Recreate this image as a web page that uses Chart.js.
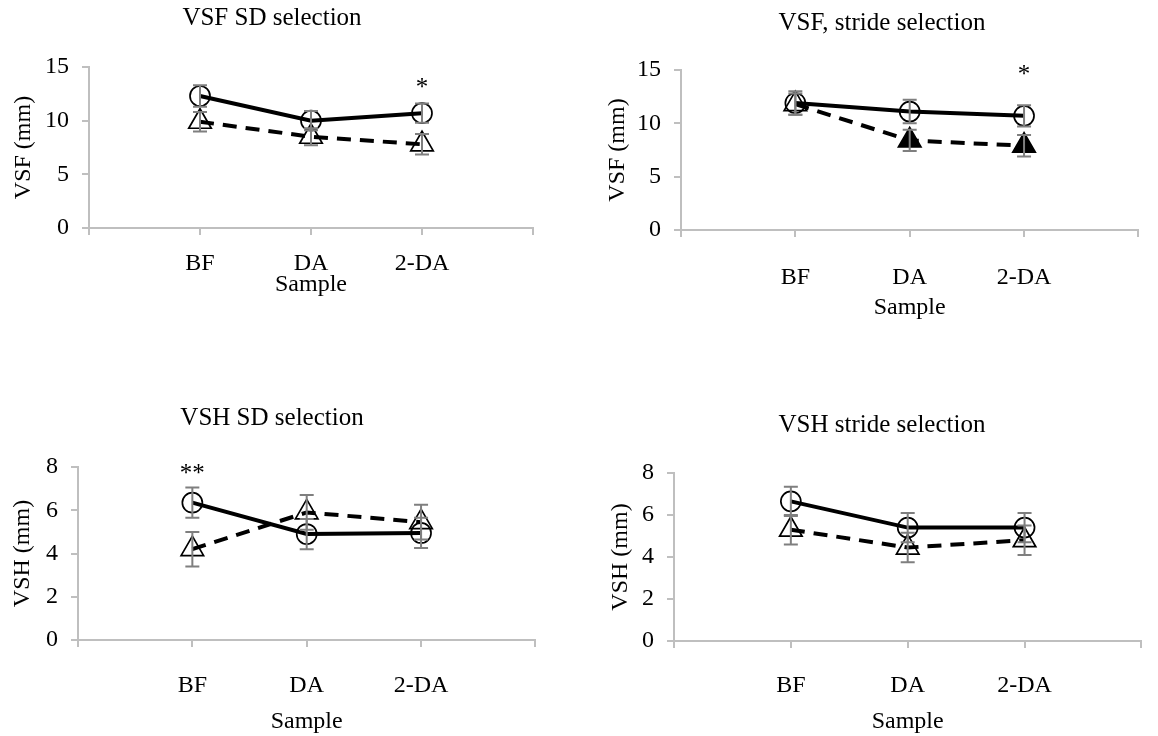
<!DOCTYPE html>
<html>
<head>
<meta charset="utf-8">
<script src="https://cdn.jsdelivr.net/npm/chart.js"></script>
<style>
html,body{margin:0;padding:0;background:#fff;overflow:hidden;width:1158px;height:736px;position:relative}
canvas{position:absolute}
</style>
</head>
<body>
<canvas id="vsfSd" width="560" height="330" style="left:0;top:0"></canvas>
<canvas id="vsfStride" width="575" height="330" style="left:590px;top:0"></canvas>
<canvas id="vshSd" width="560" height="346" style="left:0;top:390px"></canvas>
<canvas id="vshStride" width="575" height="346" style="left:590px;top:390px"></canvas>
<script>
// categories and tick values
const categories = ['BF', 'DA', '2-DA']
const vsfTicks = [0, 5, 10, 15]
const vshTicks = [0, 2, 4, 6, 8]

// VSF, SD selection
const vsfSdCircle = [12.3, 10.0, 10.7]
const vsfSdCircleErr = [1.0, 0.9, 0.9]
const vsfSdTriangle = [9.9, 8.5, 7.8]
const vsfSdTriangleErr = [0.9, 0.8, 0.95]
const vsfSdStars = ['', '', '*']

// VSF, stride selection
const vsfStrideCircle = [11.9, 11.1, 10.7]
const vsfStrideCircleErr = [1.1, 1.1, 1.0]
const vsfStrideTriangle = [11.8, 8.4, 7.9]
const vsfStrideTriangleErr = [1.0, 1.0, 1.0]
const vsfStrideStars = ['', '', '*']

// VSH, SD selection
const vshSdCircle = [6.35, 4.9, 4.95]
const vshSdCircleErr = [0.7, 0.7, 0.7]
const vshSdTriangle = [4.2, 5.9, 5.45]
const vshSdTriangleErr = [0.8, 0.8, 0.8]
const vshSdStars = ['**', '', '']

// VSH, stride selection
const vshStrideCircle = [6.65, 5.4, 5.4]
const vshStrideCircleErr = [0.7, 0.7, 0.7]
const vshStrideTriangle = [5.3, 4.45, 4.8]
const vshStrideTriangleErr = [0.7, 0.7, 0.7]
const vshStrideStars = ['', '', '']

const font = 'Liberation Serif'
const axisGray = '#bfbfbf'

// gray error bars with caps
const errorBars = {
  id: 'errorBars',
  afterDatasetsDraw(chart) {
    const ctx = chart.ctx
    const xs = chart.scales.x, ys = chart.scales.y
    ctx.save()
    ctx.strokeStyle = '#7f7f7f'
    ctx.lineWidth = 2
    chart.data.datasets.forEach(ds => {
      ds.data.forEach((p, i) => {
        const x = xs.getPixelForValue(p.x)
        const top = ys.getPixelForValue(p.y + ds.errors[i])
        const bot = ys.getPixelForValue(p.y - ds.errors[i])
        ctx.beginPath()
        ctx.moveTo(x, top); ctx.lineTo(x, bot)
        ctx.moveTo(x - 7, top); ctx.lineTo(x + 7, top)
        ctx.moveTo(x - 7, bot); ctx.lineTo(x + 7, bot)
        ctx.stroke()
      })
    })
    ctx.restore()
  }
}

// significance asterisks
const stars = {
  id: 'stars',
  afterDraw(chart, args, opts) {
    const ctx = chart.ctx
    ctx.save()
    ctx.font = '25px "' + font + '"'
    ctx.fillStyle = '#000'
    ctx.textAlign = 'center'
    ctx.textBaseline = 'alphabetic'
    opts.text.forEach((t, i) => {
      if (!t) return
      const m = ctx.measureText(t)
      const x = chart.scales.x.getPixelForValue(i + 1)
      const y = chart.scales.y.getPixelForValue(opts.level)
      ctx.fillText(t, x, y + (m.actualBoundingBoxAscent - m.actualBoundingBoxDescent) / 2)
    })
    ctx.restore()
  }
}

function toPoints(vals) {
  return vals.map((v, i) => ({ x: i + 1, y: v }))
}

function makeChart(id, p) {
  const xTickVals = [0, ...categories.map((c, i) => i + 1), categories.length + 1]
  new Chart(document.getElementById(id), {
    type: 'line',
    data: {
      datasets: [
        {
          data: toPoints(p.circle), errors: p.circleErr,
          borderColor: '#000', borderWidth: 4, tension: 0,
          pointStyle: 'circle', pointRadius: 10, pointBorderWidth: 1.7,
          pointBorderColor: '#000', pointBackgroundColor: 'rgba(0,0,0,0)'
        },
        {
          data: toPoints(p.triangle), errors: p.triangleErr,
          borderColor: '#000', borderWidth: 4, borderDash: [14, 9], tension: 0,
          pointStyle: 'triangle', pointRadius: 13, pointBorderWidth: 1.7,
          pointBorderColor: '#000', pointBackgroundColor: p.triFill
        }
      ]
    },
    options: {
      responsive: false,
      animation: false,
      layout: { padding: { left: p.padL, right: p.padR, top: 0, bottom: 0 } },
      plugins: {
        legend: { display: false },
        tooltip: { enabled: false },
        title: {
          display: true, text: p.title, color: '#000',
          font: { family: font, size: 25, weight: 'normal' },
          padding: { top: p.titleTop, bottom: p.titleBottom }
        },
        stars: { text: p.stars, level: p.starLevel }
      },
      scales: {
        x: {
          type: 'linear', min: 0, max: categories.length + 1,
          afterBuildTicks: s => { s.ticks = xTickVals.map(v => ({ value: v })) },
          afterFit: s => { s.height = p.xHeight },
          ticks: {
            callback: v => categories[v - 1] || '',
            color: '#000', font: { family: font, size: 24 },
            padding: p.xPad, maxRotation: 0, autoSkip: false
          },
          grid: { drawOnChartArea: false, tickLength: 7, color: axisGray, lineWidth: 2 },
          border: { color: axisGray, width: 2 },
          title: {
            display: true, text: 'Sample', color: '#000',
            font: { family: font, size: 24 },
            padding: { top: 0, bottom: p.sampleBottom }
          }
        },
        y: {
          min: 0, max: p.ticks[p.ticks.length - 1],
          afterBuildTicks: s => { s.ticks = p.ticks.map(v => ({ value: v })) },
          afterFit: s => { s.width = p.yWidth },
          ticks: { color: '#000', font: { family: font, size: 24 }, padding: 13 },
          grid: { drawOnChartArea: false, tickLength: 7, color: axisGray, lineWidth: 2 },
          border: { color: axisGray, width: 2 },
          title: {
            display: true, text: p.yTitle, color: '#000',
            font: { family: font, size: 24 },
            padding: { top: p.yTitlePad, bottom: 0 }
          }
        }
      }
    },
    plugins: [errorBars, stars]
  })
}

makeChart('vsfSd', {
  title: 'VSF SD selection', yTitle: 'VSF (mm)', ticks: vsfTicks,
  circle: vsfSdCircle, circleErr: vsfSdCircleErr,
  triangle: vsfSdTriangle, triangleErr: vsfSdTriangleErr,
  triFill: 'rgba(0,0,0,0)', stars: vsfSdStars, starLevel: 13.5,
  padL: 11, padR: 27, yWidth: 78, yTitlePad: -1.4,
  titleTop: 3.4, titleBottom: 33.6, xHeight: 102, xPad: 14, sampleBottom: 31
})

makeChart('vsfStride', {
  title: 'VSF, stride selection', yTitle: 'VSF (mm)', ticks: vsfTicks,
  circle: vsfStrideCircle, circleErr: vsfStrideCircleErr,
  triangle: vsfStrideTriangle, triangleErr: vsfStrideTriangleErr,
  triFill: ['rgba(0,0,0,0)', '#000', '#000'], stars: vsfStrideStars, starLevel: 15,
  padL: 15, padR: 6, yWidth: 76, yTitlePad: -2,
  titleTop: 8.4, titleBottom: 31.6, xHeight: 100, xPad: 26.6, sampleBottom: 7.6
})

makeChart('vshSd', {
  title: 'VSH SD selection', yTitle: 'VSH (mm)', ticks: vshTicks,
  circle: vshSdCircle, circleErr: vshSdCircleErr,
  triangle: vshSdTriangle, triangleErr: vshSdTriangleErr,
  triFill: 'rgba(0,0,0,0)', stars: vshSdStars, starLevel: 7.9,
  padL: 8, padR: 24, yWidth: 70, yTitlePad: 0.6,
  titleTop: 13.9, titleBottom: 33.1, xHeight: 96, xPad: 24.6, sampleBottom: 0
})

makeChart('vshStride', {
  title: 'VSH stride selection', yTitle: 'VSH (mm)', ticks: vshTicks,
  circle: vshStrideCircle, circleErr: vshStrideCircleErr,
  triangle: vshStrideTriangle, triangleErr: vshStrideTriangleErr,
  triFill: 'rgba(0,0,0,0)', stars: vshStrideStars, starLevel: 8,
  padL: 14, padR: 5, yWidth: 70, yTitlePad: 2.1,
  titleTop: 20.4, titleBottom: 32.6, xHeight: 95, xPad: 23.6, sampleBottom: 0
})
</script>
</body>
</html>
